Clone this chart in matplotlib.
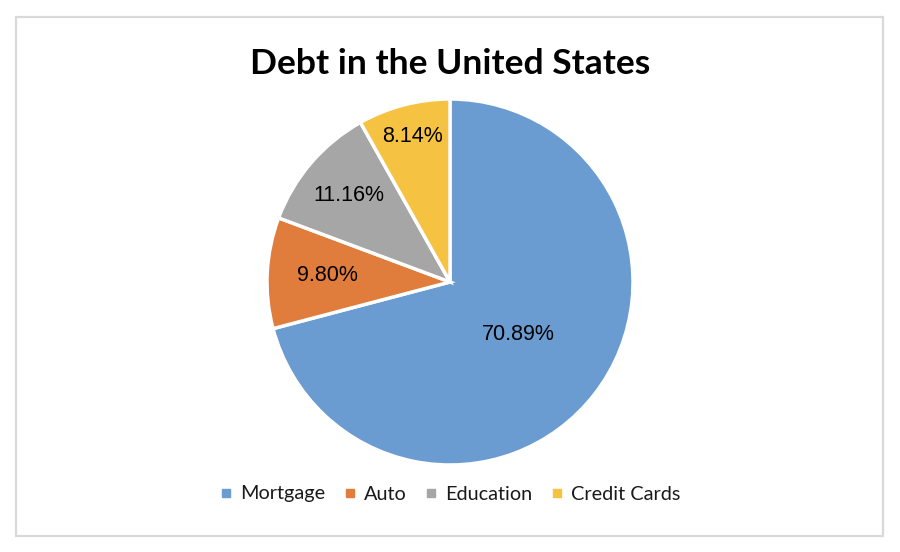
import numpy as np
import matplotlib
matplotlib.use("Agg")
import matplotlib.pyplot as plt
from matplotlib.patches import Rectangle
from matplotlib.lines import Line2D

# Data
categories = ["Mortgage", "Auto", "Education", "Credit Cards"]
shares = [70.89, 9.80, 11.16, 8.14]
colors = ["#6A9BD1", "#E07D3C", "#A6A6A6", "#F5C242"]
# distance of each percentage label from the centre (fraction of radius)
label_dist = [0.47, 0.67, 0.73, 0.82]

W, H = 900, 552
fig = plt.figure(figsize=(W / 100, H / 100), dpi=100)
fig.patch.set_facecolor("white")

# chart frame
fig.patches.append(Rectangle((16 / W, 16 / H), (883 - 16) / W, (535 - 16) / H,
                             transform=fig.transFigure, fill=False,
                             edgecolor="#D9D9D9", linewidth=1.6))

# pie axes: centre (450, 282) px, radius 183 px
cx, cy, r = 450, 282, 183
ax = fig.add_axes([(cx - r) / W, (H - cy - r) / H, 2 * r / W, 2 * r / H])
shown = iter(shares)
wedges, texts, autotexts = ax.pie(
    shares, colors=colors, startangle=90, counterclock=False,
    autopct=lambda p: f"{next(shown):.2f}%", radius=1.0,
    wedgeprops=dict(edgecolor="white", linewidth=2.5),
    textprops=dict(family="Liberation Sans", fontsize=15.5, color="black"))
ax.set_xlim(-1, 1)
ax.set_ylim(-1, 1)
ax.axis("off")

for t, w, d in zip(autotexts, wedges, label_dist):
    ang = np.deg2rad((w.theta1 + w.theta2) / 2)
    t.set_position((d * np.cos(ang), d * np.sin(ang)))

fig.text(0.5, (H - 64) / H, "Debt in the United States", ha="center", va="center",
         family="Lato", fontweight="bold", fontsize=25.5, color="black")

handles = [Line2D([], [], marker="s", linestyle="none", markersize=6,
                  markerfacecolor=c, markeredgecolor=c) for c in colors]
fig.legend(handles, categories, loc="center", ncol=4,
           bbox_to_anchor=(0.5, (H - 494) / H), frameon=False,
           prop=dict(family="Lato", size=14.3), handlelength=0.6,
           handletextpad=0.4, columnspacing=0.95, labelcolor="#1a1a1a")

fig.savefig("out.png", dpi=100, facecolor="white")
